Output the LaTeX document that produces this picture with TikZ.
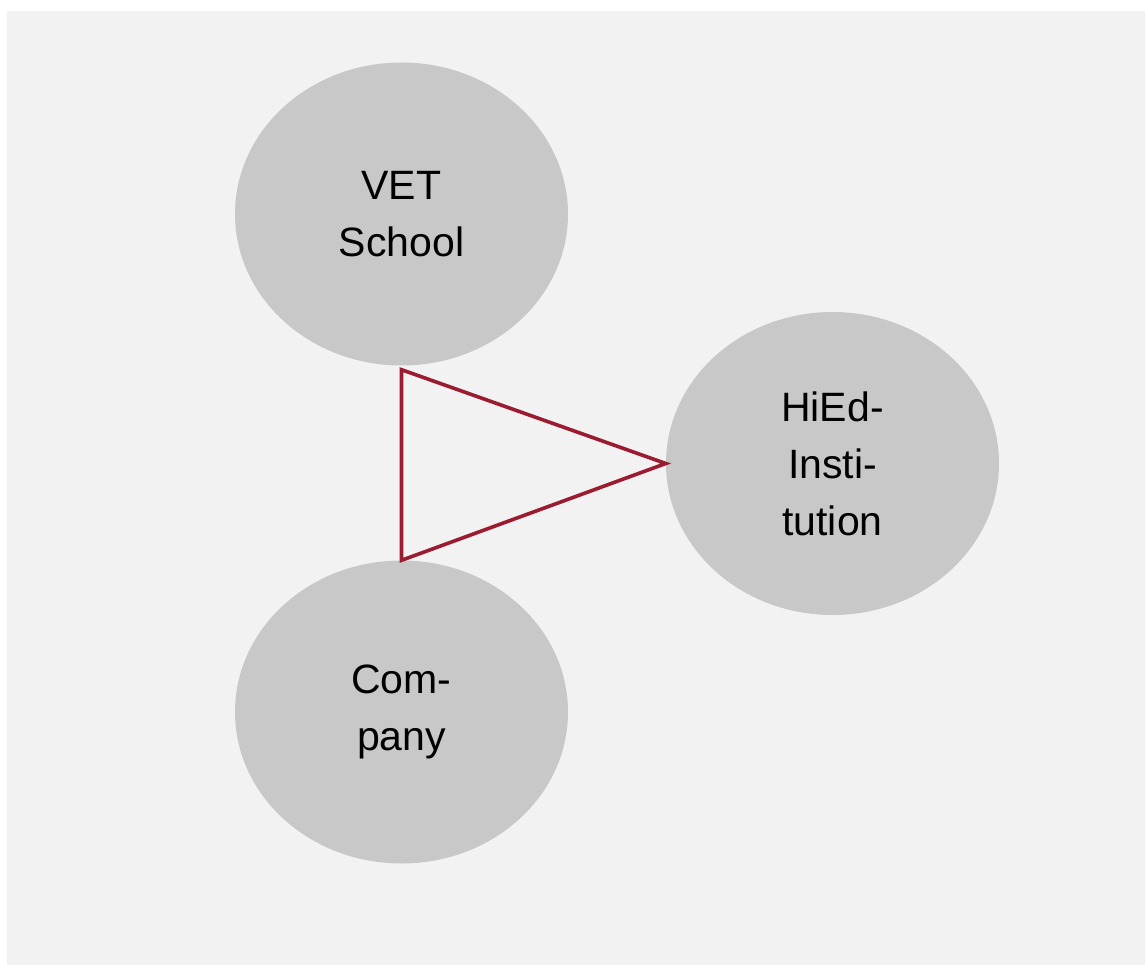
\documentclass[tikz,border=0pt]{standalone}
\usepackage{fontspec}
\setmainfont{Liberation Sans}
\usetikzlibrary{shapes.geometric}
\definecolor{bgc}{HTML}{F2F2F2}
\definecolor{elc}{HTML}{C8C8C8}
\definecolor{trc}{HTML}{9B1B30}
\tikzset{
  party/.style={ellipse, fill=elc, draw=none, minimum width=333pt, minimum height=303pt,
    inner sep=0pt, align=center, font=\fontsize{41}{57}\selectfont, text=black},
  linkline/.style={draw=trc, line width=3.6pt, line join=miter}
}
\begin{document}
\begin{tikzpicture}[x=1pt,y=-1pt]
\useasboundingbox (0,0) rectangle (1145,965);
\fill[white] (0,0) rectangle (1145,965);
\fill[bgc] (7,11) rectangle (1145,965);
\node[party] (vet) at (401.5,214) {VET\\School};
\node[party] (hied) at (832.5,463.5) {HiEd-\\Insti-\\tution};
\node[party] (co) at (401.5,712) {Com-\\pany};
\coordinate (t1) at ([yshift=-4pt]vet.south);
\draw[linkline] (t1) -- (hied.west) -- (co.north) -- cycle;
\end{tikzpicture}
\end{document}
